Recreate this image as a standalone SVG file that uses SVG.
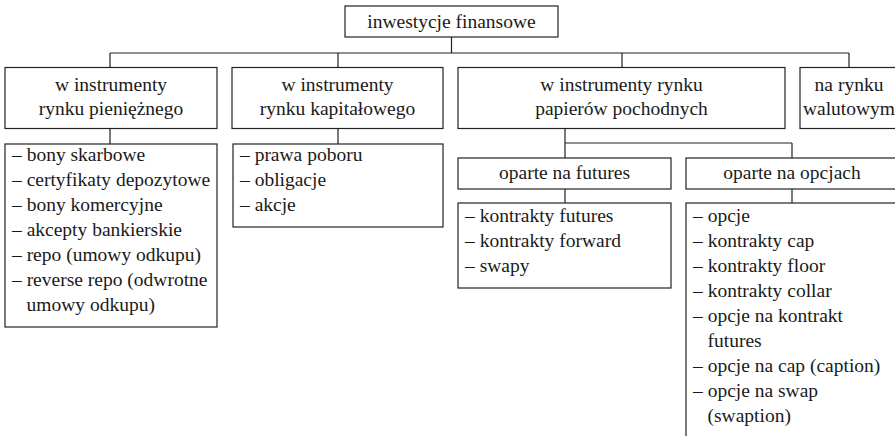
<svg xmlns="http://www.w3.org/2000/svg" width="895" height="436" viewBox="0 0 895 436">
<style>
  .box { fill: #ffffff; stroke: #222222; stroke-width: 1.2; }
  .ln { fill: none; stroke: #222222; stroke-width: 1.2; }
  .c { text-anchor: middle; }
</style>
<rect width="895" height="436" fill="#ffffff"/>
<g id="connectors">
  <path class="ln" d="M451.5,37 V53 M110,53 H849 M110,53 V67.5 M338,53 V67.5 M622,53 V67.5 M849,53 V67.5"/>
  <path class="ln" d="M110,128.5 V144 M338,128.5 V144"/>
  <path class="ln" d="M565,128.5 V143 M565,143 H792 M565,143 V158 M792,143 V158"/>
  <path class="ln" d="M565,189 V203 M792,189 V203"/>
</g>
<g font-family="Liberation Serif, DejaVu Serif, serif" font-size="19.5" fill="#1a1a1a">
<g id="root">
  <rect class="box" x="345" y="6" width="213" height="31"/>
  <text class="c" x="451.5" y="28">inwestycje finansowe</text>
</g>
<g id="rynek-pieniezny">
  <rect class="box" x="5" y="67.5" width="212" height="61"/>
  <text class="c" x="111" y="91">w instrumenty</text>
  <text class="c" x="111" y="115">rynku pieniężnego</text>
</g>
<g id="rynek-kapitalowy">
  <rect class="box" x="232" y="67.5" width="211" height="61"/>
  <text class="c" x="337.5" y="91">w instrumenty</text>
  <text class="c" x="337.5" y="115">rynku kapitałowego</text>
</g>
<g id="rynek-pochodnych">
  <rect class="box" x="458" y="67.5" width="327" height="61"/>
  <text class="c" x="621.5" y="91">w instrumenty rynku</text>
  <text class="c" x="621.5" y="115">papierów pochodnych</text>
</g>
<g id="rynek-walutowy">
  <rect class="box" x="800" y="67.5" width="98" height="61"/>
  <text class="c" x="849" y="91">na rynku</text>
  <text class="c" x="849" y="115">walutowym</text>
</g>
<g id="lista-pieniezny">
  <rect class="box" x="5" y="144" width="212" height="183"/>
  <text x="12" y="161">– bony skarbowe</text>
  <text x="12" y="186">– certyfikaty depozytowe</text>
  <text x="12" y="211">– bony komercyjne</text>
  <text x="12" y="236">– akcepty bankierskie</text>
  <text x="12" y="261">– repo (umowy odkupu)</text>
  <text x="12" y="286">– reverse repo (odwrotne</text>
  <text x="26.5" y="311">umowy odkupu)</text>
</g>
<g id="lista-kapitalowy">
  <rect class="box" x="233" y="144" width="210" height="83"/>
  <text x="240" y="161">– prawa poboru</text>
  <text x="240" y="186">– obligacje</text>
  <text x="240" y="211">– akcje</text>
</g>
<g id="futures">
  <rect class="box" x="458" y="158" width="213" height="31"/>
  <text class="c" x="564.5" y="179">oparte na futures</text>
</g>
<g id="opcje">
  <rect class="box" x="686" y="158" width="212" height="31"/>
  <text class="c" x="792" y="179">oparte na opcjach</text>
</g>
<g id="lista-futures">
  <rect class="box" x="458" y="203" width="213" height="85"/>
  <text x="465" y="222">– kontrakty futures</text>
  <text x="465" y="247">– kontrakty forward</text>
  <text x="465" y="272">– swapy</text>
</g>
<g id="lista-opcje">
  <rect class="box" x="686" y="203" width="212" height="250"/>
  <text x="693" y="222">– opcje</text>
  <text x="693" y="247">– kontrakty cap</text>
  <text x="693" y="272">– kontrakty floor</text>
  <text x="693" y="297">– kontrakty collar</text>
  <text x="693" y="322">– opcje na kontrakt</text>
  <text x="707.5" y="347">futures</text>
  <text x="693" y="372">– opcje na cap (caption)</text>
  <text x="693" y="397">– opcje na swap</text>
  <text x="707.5" y="422">(swaption)</text>
</g>
</g>
</svg>
